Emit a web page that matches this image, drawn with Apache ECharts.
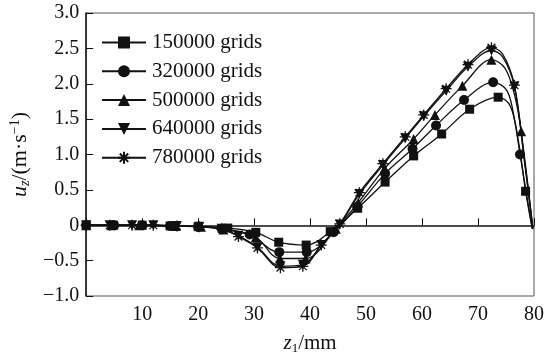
<!DOCTYPE html>
<html>
<head>
<meta charset="utf-8">
<script src="https://cdn.jsdelivr.net/npm/echarts@6/dist/echarts.min.js"></script>
<style>
html,body{margin:0;padding:0;background:#fff;}
#chart{width:547px;height:360px;}
</style>
</head>
<body>
<div id="chart"></div>
<script>
// ---- data ----
const seriesNames = ['150000 grids', '320000 grids', '500000 grids', '640000 grids', '780000 grids'];

const z150 = [0, 4.9, 10, 15, 20, 25.3, 30.3, 34.4, 39.3, 43.6, 48.5, 53.4, 58.5, 63.5, 68.5, 73.6, 75.8, 77.3, 78.5, 79.7];
const u150 = [0, 0, 0, -0.01, -0.02, -0.04, -0.10, -0.24, -0.28, -0.09, 0.24, 0.61, 0.98, 1.29, 1.64, 1.81, 1.68, 1.15, 0.48, -0.05];
const unmarked150 = [16, 17, 19];

const z320 = [0, 5, 10, 15, 20, 24.2, 29.2, 34.5, 39.4, 44.2, 48.4, 53.4, 58.3, 62.5, 67.5, 72.7, 75.2, 76.6, 77.5, 79.7];
const u320 = [0, 0, 0, -0.01, -0.02, -0.05, -0.13, -0.38, -0.38, -0.10, 0.26, 0.73, 1.08, 1.41, 1.77, 2.02, 1.90, 1.45, 1.00, -0.05];
const unmarked320 = [16, 17, 19];

const z500 = [0, 4.5, 9.5, 16, 20.5, 24.5, 30.3, 34.6, 39.2, 44.6, 48.6, 53.3, 58.5, 62.3, 67.2, 72.4, 74.8, 76.5, 77.7, 79.8];
const u500 = [0, 0, 0, -0.01, -0.02, -0.06, -0.17, -0.47, -0.47, -0.05, 0.32, 0.80, 1.22, 1.56, 1.97, 2.34, 2.22, 1.85, 1.33, -0.05];
const unmarked500 = [16, 17, 19];

const z640 = [0, 4.2, 8.2, 12, 16.2, 20.2, 24.2, 27.2, 30.6, 34.7, 38.7, 42, 45.3, 48.8, 53, 57, 60.3, 64.3, 68.2, 72.4, 74.4, 76.5, 78.3, 79.8];
const u640 = [0, 0, 0, 0, -0.01, -0.02, -0.05, -0.15, -0.31, -0.58, -0.56, -0.28, 0.01, 0.44, 0.85, 1.23, 1.54, 1.90, 2.24, 2.47, 2.38, 1.96, 0.90, -0.05];
const unmarked640 = [20, 22, 23];

const z780 = [0, 4.2, 8.2, 12, 16.2, 20.2, 24.2, 27.2, 30.6, 34.7, 38.7, 42, 45.3, 48.8, 53, 57, 60.3, 64.3, 68.2, 72.4, 74.4, 76.5, 78.3, 79.8];
const u780 = [0, 0, 0, 0, -0.01, -0.02, -0.05, -0.16, -0.32, -0.60, -0.58, -0.28, 0.02, 0.46, 0.87, 1.25, 1.56, 1.93, 2.27, 2.51, 2.42, 1.98, 0.92, -0.05];
const unmarked780 = [20, 22, 23];

const xTickLabels = ['', '10', '20', '30', '40', '50', '60', '70', '80'];
const yTickLabels = ['\u22121.0', '\u22120.5', '0', '0.5', '1.0', '1.5', '2.0', '2.5', '3.0'];

// ---- build ----
const FONT = 'Liberation Serif';
const asterisk = 'path://M5 0 L5 10 M0 5 L10 5 M1.5 1.5 L8.5 8.5 M1.5 8.5 L8.5 1.5';
const downTri = 'path://M0 0 L10 0 L5 9 Z';
const symbols = ['rect', 'circle', 'triangle', downTri, asterisk];
const sizes = [9, 10, 10, 10, 11];
const xs = [z150, z320, z500, z640, z780];
const ys = [u150, u320, u500, u640, u780];
const unmarked = [unmarked150, unmarked320, unmarked500, unmarked640, unmarked780];

function pairs(x, y, skip) {
  return x.map((v, i) => {
    const item = { value: [v, y[i]] };
    if (skip.indexOf(i) >= 0) item.symbol = 'none';
    return item;
  });
}

const series = seriesNames.map((name, k) => ({
  name: name,
  type: 'line',
  data: pairs(xs[k], ys[k], unmarked[k]),
  smooth: 0.35,
  symbol: symbols[k],
  symbolSize: sizes[k],
  showAllSymbol: true,
  lineStyle: { color: '#111', width: 1.3 },
  itemStyle: k === 4
    ? { color: '#111', borderColor: '#111', borderWidth: 1.3 }
    : { color: '#111', borderWidth: 0 },
  emphasis: { disabled: true },
  z: 2 + k
}));

const chart = echarts.init(document.getElementById('chart'), null, { renderer: 'canvas' });
chart.setOption({
  animation: false,
  backgroundColor: '#fff',
  grid: {
    left: 84, right: 13, top: 13, bottom: 63,
    show: true, borderColor: '#555', borderWidth: 1, backgroundColor: 'transparent'
  },
  legend: {
    orient: 'vertical',
    left: 96, top: 27,
    itemWidth: 44, itemHeight: 15, itemGap: 7.8,
    data: seriesNames,
    textStyle: { fontFamily: FONT, fontSize: 21, color: '#111', padding: [0, 0, 0, 1] },
    inactiveColor: '#111'
  },
  xAxis: {
    type: 'value',
    min: 0, max: 80, interval: 10,
    axisLine: { show: true, lineStyle: { color: '#111', width: 1.5 } },
    axisTick: { show: true, inside: true, length: 7, lineStyle: { color: '#111', width: 1 } },
    splitLine: { show: false },
    axisLabel: {
      fontFamily: FONT, fontSize: 20, color: '#111', margin: 9,
      formatter: (v) => xTickLabels[Math.round(v / 10)]
    },
    name: '{i|z}{s|1}{n|/mm}',
    nameLocation: 'middle',
    nameGap: 36,
    nameTextStyle: {
      rich: {
        i: { fontFamily: FONT, fontStyle: 'italic', fontSize: 21, color: '#111' },
        s: { fontFamily: FONT, fontSize: 13, color: '#111', padding: [10, 0, 0, 0] },
        n: { fontFamily: FONT, fontSize: 21, color: '#111' }
      }
    }
  },
  yAxis: {
    type: 'value',
    min: -1, max: 3, interval: 0.5,
    axisLine: { show: true, lineStyle: { color: '#111', width: 1.5 } },
    axisTick: { show: true, inside: true, length: 7, lineStyle: { color: '#111', width: 1 } },
    splitLine: { show: false },
    axisLabel: {
      fontFamily: FONT, fontSize: 20, color: '#111', margin: 7,
      formatter: (v) => yTickLabels[Math.round((v + 1) / 0.5)]
    },
    name: '{i|u}{s|z}{n|/(m\u00b7s}{p|\u22121}{n|)}',
    nameLocation: 'middle',
    nameGap: 52,
    nameRotate: 90,
    nameTextStyle: {
      rich: {
        i: { fontFamily: FONT, fontStyle: 'italic', fontSize: 22, color: '#111' },
        s: { fontFamily: FONT, fontStyle: 'italic', fontSize: 14, color: '#111', padding: [10, 0, 0, 0] },
        n: { fontFamily: FONT, fontSize: 22, color: '#111' },
        p: { fontFamily: FONT, fontSize: 14, color: '#111', padding: [0, 0, 10, 0] }
      }
    }
  },
  series: series
});
</script>
</body>
</html>
